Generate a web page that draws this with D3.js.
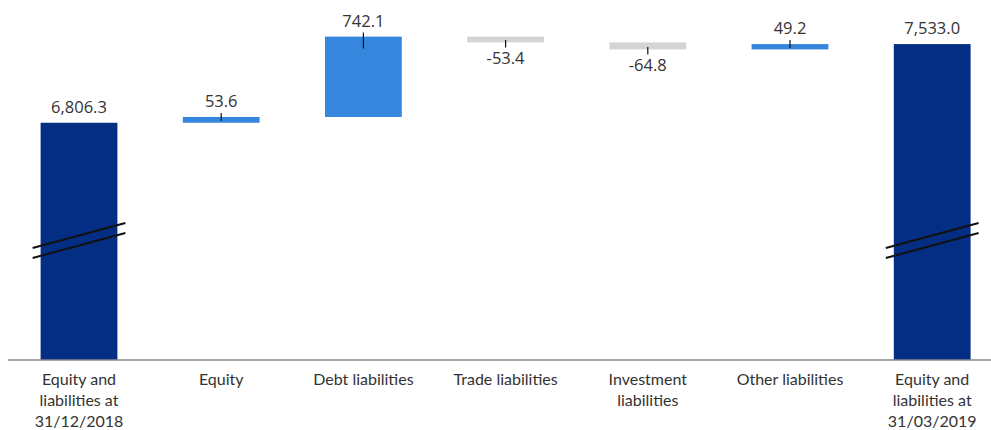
<!DOCTYPE html>
<html>
<head>
<meta charset="utf-8">
<script src="https://cdn.jsdelivr.net/npm/d3@7"></script>
<style>
  body { margin: 0; background: #fff; }
  svg { display: block; }
</style>
</head>
<body>
<div id="chart"></div>
<script>
// categories and values (EUR bn)
const categories = [
    ["Equity and", "liabilities at", "31/12/2018"],
    ["Equity"],
    ["Debt liabilities"],
    ["Trade liabilities"],
    ["Investment", "liabilities"],
    ["Other liabilities"],
    ["Equity and", "liabilities at", "31/03/2019"]
]
const values = [6806.3, 53.6, 742.1, -53.4, -64.8, 49.2, 7533.0]
const kinds = ["total", "delta", "delta", "delta", "delta", "delta", "total"]
// axis is broken, so it starts well above zero
const axisFloor = 4615

const width = 991, height = 430

const svg = d3.select("#chart").append("svg")
    .attr("width", width)
    .attr("height", height)

// build the waterfall steps
var running = 0
const bars = values.map((v, i) => {
    var start, end
    if (kinds[i] === "total") {
        start = axisFloor
        end = v
        running = v
    } else {
        start = running
        end = running + v
        running = end
    }
    return { i: i, value: v, kind: kinds[i], start: start, end: end }
})

const x = d3.scaleBand()
    .domain(d3.range(categories.length))
    .range([7.9, 1003.3])
    .paddingInner(0.46)
    .paddingOuter(0.23)

const y = d3.scaleLinear()
    .domain([axisFloor, 7700])
    .range([360, 26])

function barColor(d) {
    if (d.kind === "total") return "#032e84"
    return d.value >= 0 ? "#3586dd" : "#d4d4d4"
}

// plain hyphen for negatives, like the source
const fmt = d3.formatLocale({ decimal: ".", thousands: ",", grouping: [3], currency: ["", ""], minus: "-" }).format(",.1f")

// bars
svg.append("g")
    .selectAll("rect")
    .data(bars)
    .enter().append("rect")
    .attr("x", d => x(d.i))
    .attr("width", x.bandwidth())
    .attr("y", d => y(Math.max(d.start, d.end)))
    .attr("height", d => Math.abs(y(d.start) - y(d.end)))
    .attr("fill", barColor)

// little marker ticks on the change bars
svg.append("g")
    .selectAll("line")
    .data(bars.filter(d => d.kind === "delta"))
    .enter().append("line")
    .attr("x1", d => x(d.i) + x.bandwidth() / 2)
    .attr("x2", d => x(d.i) + x.bandwidth() / 2)
    .attr("y1", d => d.value >= 0 ? y(d.end) - 4 : y(d.end) - 2.5)
    .attr("y2", d => {
        var h = Math.abs(y(d.start) - y(d.end))
        var len = Math.min(16, Math.max(8, h * 0.2))
        return d.value >= 0 ? y(d.end) - 4 + len : y(d.end) + 5
    })
    .attr("stroke", "#111")
    .attr("stroke-width", 1.2)

// value labels
svg.append("g")
    .selectAll("text")
    .data(bars)
    .enter().append("text")
    .attr("x", d => x(d.i) + x.bandwidth() / 2)
    .attr("y", d => d.value >= 0 ? y(Math.max(d.start, d.end)) - 10 : y(d.end) + 22)
    .attr("text-anchor", "middle")
    .attr("font-family", "'Open Sans', sans-serif")
    .attr("font-size", "16.5px")
    .attr("fill", "#333")
    .text(d => fmt(d.value))

// baseline
svg.append("line")
    .attr("x1", 8).attr("x2", width)
    .attr("y1", y(axisFloor)).attr("y2", y(axisFloor))
    .attr("stroke", "#888")
    .attr("stroke-width", 1.5)

// axis break marks on the total bars
const brk = svg.append("g")
bars.filter(d => d.kind === "total").forEach(d => {
    [0, 10].forEach(off => {
        brk.append("line")
            .attr("x1", x(d.i) - 8)
            .attr("x2", x(d.i) + x.bandwidth() + 8)
            .attr("y1", 248 + off)
            .attr("y2", 223 + off)
            .attr("stroke", "#111")
            .attr("stroke-width", 2)
    })
})

// category labels
svg.append("g")
    .selectAll("text")
    .data(categories)
    .enter().append("text")
    .attr("x", (d, i) => x(i) + x.bandwidth() / 2)
    .attr("y", 385)
    .attr("text-anchor", "middle")
    .attr("font-family", "Lato, sans-serif")
    .attr("font-size", "16px")
    .attr("fill", "#333")
    .each(function (d) {
        d3.select(this).selectAll("tspan")
            .data(d)
            .enter().append("tspan")
            .attr("x", d3.select(this).attr("x"))
            .attr("dy", (t, j) => j === 0 ? 0 : 21)
            .text(t => t)
    })
</script>
</body>
</html>
